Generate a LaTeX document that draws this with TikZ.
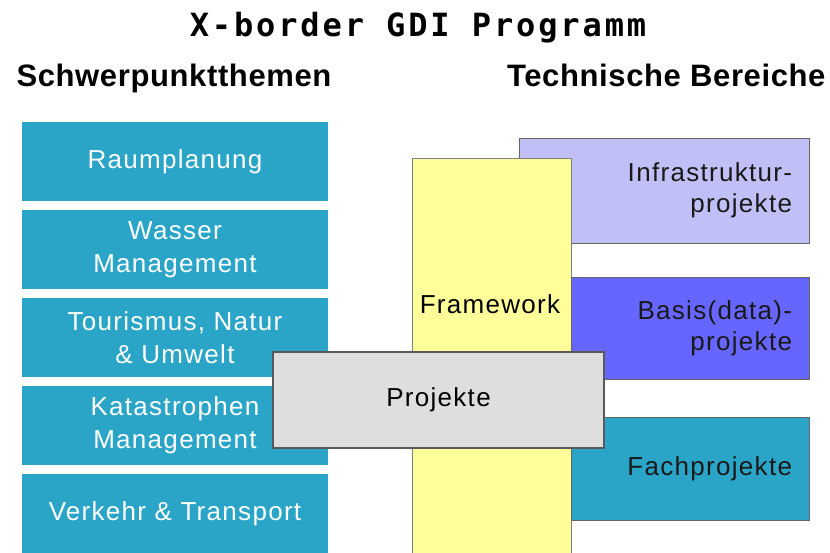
\documentclass[tikz,border=0pt]{standalone}
\usepackage{fontspec}
\setmainfont{Liberation Sans}
\newfontfamily\titlefont{DejaVu Sans Mono}[LetterSpace=9]
\newfontfamily\boxfont{Liberation Sans}[LetterSpace=5]
\newfontfamily\headfont{Liberation Sans}[LetterSpace=2]
\usetikzlibrary{positioning}
\definecolor{thema}{RGB}{42,165,200}
\definecolor{infra}{RGB}{192,192,246}
\definecolor{basis}{RGB}{102,102,255}
\definecolor{frameyel}{RGB}{255,255,153}
\definecolor{projgray}{RGB}{222,222,222}

\begin{document}
\begin{tikzpicture}[x=1pt,y=1pt,node distance=88pt,on grid,
   thema/.style={rectangle,fill=thema,text=white,minimum width=306pt,minimum height=79pt,inner sep=0pt,align=center,font=\boxfont\fontsize{26}{33}\selectfont},
   bereich/.style={rectangle,draw=black!60,line width=0.8pt,text=black!90,align=right,inner xsep=17pt,inner ysep=0pt,font=\boxfont\fontsize{26}{31}\selectfont},
   heading/.style={font=\headfont\bfseries\fontsize{31}{31}\selectfont}]
   \useasboundingbox (0,0) rectangle (830,552);
   \node[anchor=base,font=\titlefont\bfseries\fontsize{32}{32}\selectfont] (title) at (418,515.3) {X-border GDI Programm};
   \node[heading,anchor=base west] (themen) at (13,465) {Schwerpunktthemen};
   \node[heading,anchor=base east] (bereiche) at (829,465) {Technische Bereiche};
   % Schwerpunktthemen
   \node[thema] (raum) at (175,390.5) {Raumplanung};
   \node[thema] (wasser) [below=of raum] {Wasser\\Management};
   \node[thema] (tourismus) [below=of wasser] {Tourismus, Natur\\\& Umwelt};
   \node[thema] (kat) [below=of tourismus] {Katastrophen\\Management};
   \node[thema] (verkehr) [below=of kat] {Verkehr \& Transport};
   % Technische Bereiche
   \node[bereich,fill=infra,minimum height=105pt,text width=256pt] (infra) at (664,361.5) {Infrastruktur-\\projekte};
   \node[draw=black!50,fill=frameyel,minimum width=159pt,minimum height=398pt,inner sep=0pt,anchor=north] (frame) at (491.5,394) {};
   \node[font=\boxfont\fontsize{26}{31}\selectfont,anchor=base] (framelbl) at (490,238.7) {Framework};
   \node[bereich,fill=basis,minimum height=102pt,text width=204pt] (basis) at (690,224) {Basis(data)-\\projekte};
   \node[bereich,fill=thema,minimum height=103pt,text width=204pt] (fach) at (690,83.5) {Fachprojekte};
   % Projekte quer
   \node[draw=black!65,line width=1.2pt,fill=projgray,minimum width=331pt,minimum height=96pt,font=\boxfont\fontsize{26}{31}\selectfont] (projekte) at (438.5,152) {Projekte};
\end{tikzpicture}
\end{document}
